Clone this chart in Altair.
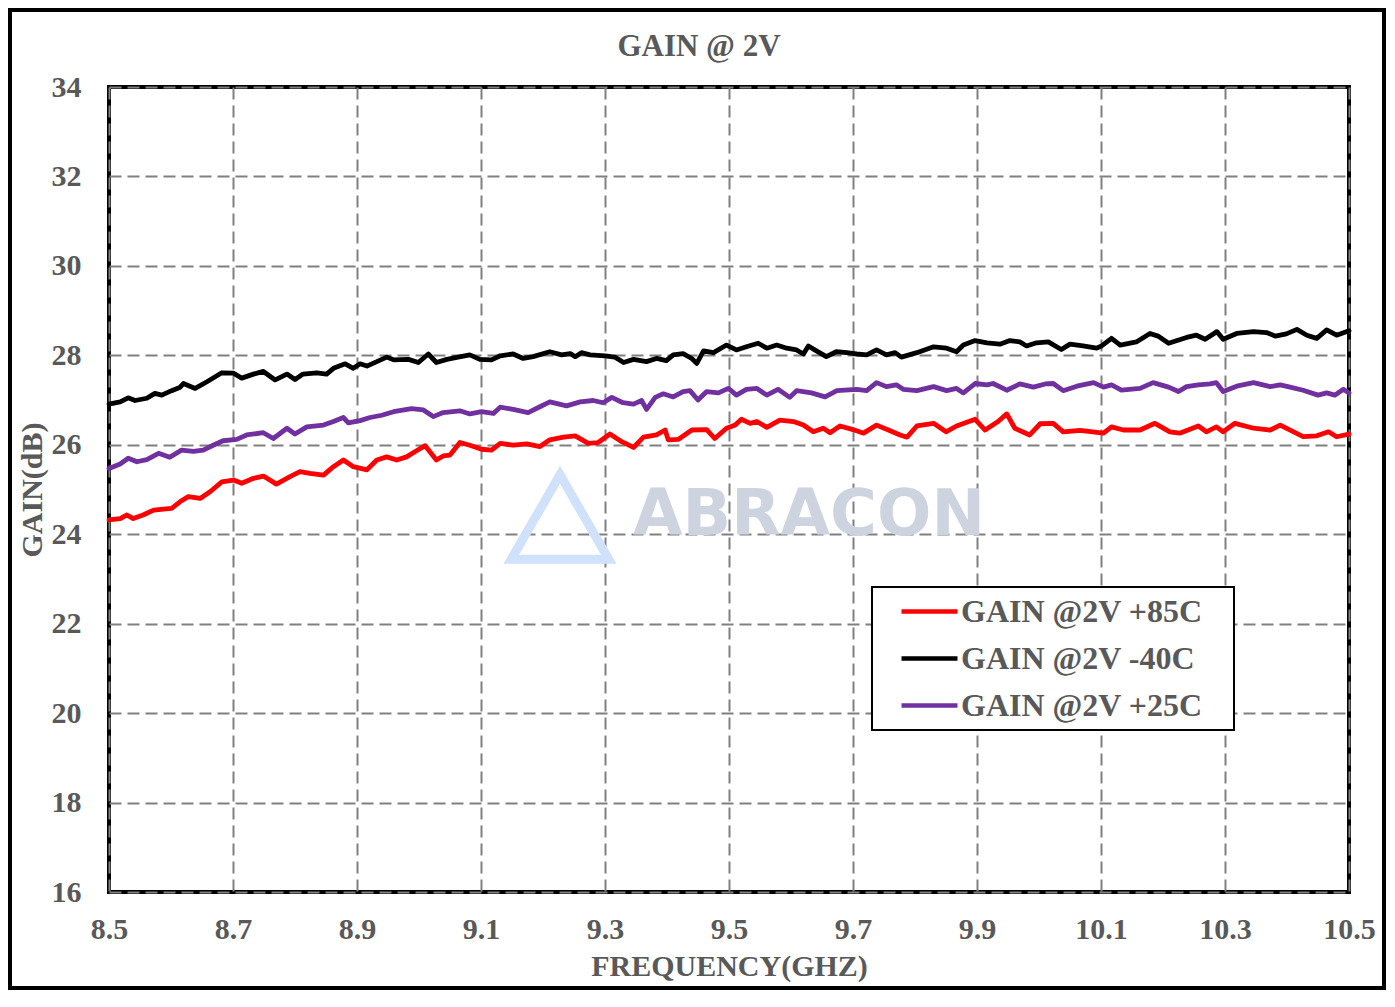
import altair as alt
import pandas as pd

# ---------------- data ----------------
series_names = ["GAIN @2V +85C", "GAIN @2V -40C", "GAIN @2V +25C"]
series_colors = ["#FF0000", "#000000", "#7030A0"]

freq_85 = [8.500, 8.518, 8.529, 8.539, 8.555, 8.572, 8.588, 8.601, 8.615, 8.628, 8.647, 8.663, 8.682, 8.701,
           8.714, 8.733, 8.749, 8.770, 8.792, 8.808, 8.824, 8.846, 8.862, 8.878, 8.894, 8.916, 8.932, 8.948,
           8.964, 8.980, 8.994, 9.010, 9.028, 9.039, 9.050, 9.066, 9.082, 9.101, 9.117,
           9.131, 9.152, 9.174, 9.195, 9.211, 9.233, 9.252, 9.273, 9.289, 9.308, 9.327, 9.346, 9.362, 9.383,
           9.397, 9.402, 9.418, 9.440, 9.464, 9.477, 9.496, 9.510, 9.520, 9.534, 9.545, 9.561, 9.582, 9.604,
           9.620, 9.636, 9.652, 9.663, 9.679, 9.700, 9.717, 9.738, 9.757, 9.776, 9.787, 9.803,
           9.830, 9.850, 9.867, 9.897, 9.913, 9.934, 9.948, 9.961, 9.985, 10.002, 10.023, 10.039, 10.066,
           10.104, 10.117, 10.136, 10.163, 10.187, 10.211, 10.227, 10.257, 10.270, 10.286, 10.297, 10.316,
           10.346, 10.373, 10.389, 10.426, 10.448, 10.467, 10.480, 10.500]
gain_85 = [24.32, 24.35, 24.43, 24.35, 24.43, 24.54, 24.56, 24.58, 24.73, 24.84, 24.80, 24.95, 25.17, 25.21,
           25.14, 25.25, 25.30, 25.12, 25.29, 25.40, 25.36, 25.32, 25.51, 25.66, 25.51, 25.44, 25.66, 25.73,
           25.66, 25.73, 25.85, 25.98, 25.66, 25.75, 25.77, 26.05, 25.99, 25.90, 25.88,
           26.03, 25.99, 26.02, 25.96, 26.11, 26.17, 26.20, 26.03, 26.05, 26.24, 26.07, 25.94, 26.17, 26.22,
           26.33, 26.11, 26.12, 26.33, 26.34, 26.14, 26.37, 26.44, 26.57, 26.48, 26.52, 26.39, 26.55, 26.52,
           26.44, 26.29, 26.37, 26.27, 26.42, 26.34, 26.26, 26.44, 26.33, 26.22, 26.17, 26.42,
           26.48, 26.29, 26.42, 26.57, 26.33, 26.52, 26.69, 26.37, 26.22, 26.47, 26.48, 26.29, 26.32,
           26.26, 26.40, 26.33, 26.33, 26.48, 26.29, 26.26, 26.42, 26.29, 26.40, 26.29, 26.48,
           26.37, 26.33, 26.44, 26.18, 26.20, 26.29, 26.18, 26.24]

freq_m40 = [8.500, 8.518, 8.531, 8.542, 8.561, 8.574, 8.585, 8.601, 8.614, 8.620, 8.639, 8.658, 8.682, 8.701,
            8.714, 8.733, 8.749, 8.768, 8.787, 8.800, 8.813, 8.835, 8.851, 8.862, 8.881, 8.894, 8.905, 8.916,
            8.932, 8.948, 8.959, 8.983, 8.999, 9.015, 9.028, 9.045, 9.063, 9.082, 9.098, 9.117,
            9.131, 9.152, 9.168, 9.184, 9.211, 9.230, 9.244, 9.252, 9.262, 9.276, 9.300, 9.316, 9.330, 9.346,
            9.367, 9.383, 9.399, 9.410, 9.426, 9.440, 9.448, 9.459, 9.475, 9.496, 9.512, 9.528, 9.547, 9.561,
            9.577, 9.593, 9.609, 9.620, 9.628, 9.641, 9.657, 9.673, 9.690, 9.706, 9.722, 9.738, 9.754, 9.768,
            9.778, 9.803,
            9.830, 9.851, 9.867, 9.878, 9.897, 9.916, 9.937, 9.953, 9.969, 9.980, 9.996, 10.015, 10.036,
            10.050, 10.071, 10.093, 10.101, 10.117, 10.131, 10.157, 10.179, 10.192, 10.209, 10.238, 10.254,
            10.268, 10.287, 10.297, 10.319, 10.346, 10.367, 10.381, 10.399, 10.416, 10.432, 10.448, 10.464,
            10.480, 10.500]
gain_m40 = [26.91, 26.96, 27.05, 26.99, 27.04, 27.15, 27.11, 27.21, 27.28, 27.37, 27.26, 27.41, 27.61, 27.60,
            27.49, 27.58, 27.64, 27.45, 27.58, 27.46, 27.58, 27.61, 27.58, 27.71, 27.81, 27.71, 27.81, 27.76,
            27.86, 27.96, 27.90, 27.91, 27.84, 28.03, 27.84, 27.91, 27.96, 28.01, 27.91, 27.90,
            27.99, 28.03, 27.93, 27.97, 28.08, 28.01, 28.04, 27.97, 28.06, 28.01, 27.99, 27.96, 27.84, 27.91,
            27.86, 27.93, 27.88, 28.01, 28.04, 27.93, 27.82, 28.10, 28.06, 28.23, 28.12, 28.19, 28.27, 28.16,
            28.23, 28.16, 28.12, 28.03, 28.21, 28.10, 27.97, 28.08, 28.06, 28.03, 28.01, 28.12, 28.01, 28.06,
            27.96, 28.06,
            28.19, 28.16, 28.08, 28.23, 28.33, 28.28, 28.25, 28.33, 28.30, 28.21, 28.28, 28.30, 28.13,
            28.25, 28.21, 28.16, 28.21, 28.38, 28.23, 28.30, 28.49, 28.43, 28.27, 28.40, 28.45,
            28.36, 28.53, 28.36, 28.49, 28.53, 28.51, 28.43, 28.48, 28.58, 28.45, 28.38, 28.57,
            28.45, 28.55]

freq_25 = [8.500, 8.518, 8.531, 8.545, 8.561, 8.580, 8.598, 8.617, 8.636, 8.652, 8.668, 8.684, 8.706, 8.722,
           8.749, 8.765, 8.787, 8.800, 8.819, 8.846, 8.862, 8.878, 8.886, 8.905, 8.921, 8.940, 8.959, 8.988,
           9.007, 9.023, 9.039, 9.066, 9.082, 9.101, 9.120,
           9.131, 9.152, 9.176, 9.195, 9.211, 9.238, 9.260, 9.281, 9.297, 9.311, 9.329, 9.346, 9.359, 9.367,
           9.381, 9.394, 9.410, 9.426, 9.437, 9.450, 9.464, 9.483, 9.499, 9.512, 9.528, 9.545, 9.561, 9.579,
           9.598, 9.609, 9.633, 9.655, 9.674, 9.706, 9.722, 9.738, 9.754, 9.770, 9.781, 9.803,
           9.830, 9.851, 9.867, 9.878, 9.897, 9.916, 9.926, 9.948, 9.969, 9.991, 10.010, 10.023, 10.039,
           10.061, 10.088, 10.104, 10.117, 10.133, 10.163, 10.184, 10.209, 10.225, 10.238, 10.257, 10.276,
           10.286, 10.297, 10.319, 10.346, 10.373, 10.389, 10.405, 10.426, 10.450, 10.464, 10.477, 10.491,
           10.500]
gain_25 = [25.47, 25.57, 25.70, 25.62, 25.67, 25.81, 25.72, 25.88, 25.85, 25.88, 25.99, 26.09, 26.12, 26.22,
           26.27, 26.14, 26.37, 26.24, 26.40, 26.44, 26.52, 26.61, 26.49, 26.54, 26.61, 26.66, 26.74, 26.81,
           26.78, 26.63, 26.72, 26.76, 26.69, 26.74, 26.70,
           26.84, 26.79, 26.72, 26.85, 26.96, 26.87, 26.96, 26.99, 26.94, 27.06, 26.94, 26.91, 26.99, 26.79,
           27.06, 27.14, 27.07, 27.19, 27.21, 27.00, 27.19, 27.16, 27.26, 27.11, 27.24, 27.26, 27.11, 27.24,
           27.06, 27.21, 27.16, 27.07, 27.21, 27.24, 27.21, 27.39, 27.30, 27.34, 27.24, 27.21,
           27.30, 27.21, 27.26, 27.16, 27.37, 27.34, 27.37, 27.22, 27.36, 27.29, 27.36, 27.37, 27.21,
           27.31, 27.39, 27.29, 27.34, 27.22, 27.26, 27.39, 27.29, 27.19, 27.30, 27.34, 27.36,
           27.39, 27.19, 27.31, 27.39, 27.30, 27.34, 27.29, 27.22, 27.11, 27.16, 27.11, 27.24,
           27.16]

x_ticks = [8.5, 8.7, 8.9, 9.1, 9.3, 9.5, 9.7, 9.9, 10.1, 10.3, 10.5]
y_ticks = [16, 18, 20, 22, 24, 26, 28, 30, 32, 34]

chart_title = "GAIN @ 2V"
x_title = "FREQUENCY(GHZ)"
y_title = "GAIN(dB)"
watermark = "ABRACON"

# ---------------- build table ----------------
rows = []
for name, fr, gn in [(series_names[0], freq_85, gain_85),
                     (series_names[1], freq_m40, gain_m40),
                     (series_names[2], freq_25, gain_25)]:
    for i, (f, g) in enumerate(zip(fr, gn)):
        rows.append({"series": name, "freq": f, "gain": g, "order": i})
df = pd.DataFrame(rows)

FONT = "Liberation Serif"
TXT = "#595959"
W, H = 1240, 805

lines = alt.Chart(df).mark_line(strokeWidth=4.8, strokeJoin="round", strokeCap="round").encode(
    x=alt.X("freq:Q",
            scale=alt.Scale(domain=[8.5, 10.5], nice=False, zero=False),
            axis=alt.Axis(values=x_ticks, format=".1f", title=x_title, labelPadding=22,
                          titlePadding=7, labelFlush=False)),
    y=alt.Y("gain:Q",
            scale=alt.Scale(domain=[16, 34], nice=False, zero=False),
            axis=alt.Axis(values=y_ticks, title=y_title, labelPadding=28, titlePadding=4)),
    color=alt.Color("series:N",
                    scale=alt.Scale(domain=series_names, range=series_colors),
                    legend=alt.Legend(title=None, orient="none", legendX=763, legendY=500,
                                      symbolType="M-2,0H2", symbolSize=784, symbolStrokeWidth=4.5,
                                      symbolOffset=33, labelOffset=15, rowPadding=14,
                                      padding=8, fillColor="white", strokeColor="black",
                                      labelFont=FONT, labelFontSize=32, labelFontWeight="bold",
                                      labelColor=TXT, labelLimit=600,
                                      labelExpr="datum.label + '\u2800'")),
    order="order:Q",
    detail="series:N",
)

wm_df = pd.DataFrame({"t": [watermark]})
wm_text = alt.Chart(wm_df).mark_text(font="DejaVu Sans", fontWeight="bold", fontSize=64,
                                     color="#cdd3df", align="center", baseline="alphabetic").encode(
    text="t:N", x=alt.value(700), y=alt.value(448))
wm_logo = alt.Chart(wm_df).mark_point(shape="triangle-up", filled=False, strokeWidth=9,
                                      color="#cfe1fb", size=9500, opacity=1).encode(
    x=alt.value(451), y=alt.value(430))

frame = alt.Chart(wm_df).mark_rect(filled=False, stroke="black", strokeWidth=4, clip=False).encode(
    x=alt.value(-99), x2=alt.value(1275), y=alt.value(-77), y2=alt.value(901))

chart = alt.layer(wm_text, wm_logo, lines, frame).properties(
    width=W, height=H,
    background="white",
    title=alt.Title(chart_title, font=FONT, fontSize=31, fontWeight="bold", color=TXT,
                    anchor="middle", dx=-30, dy=69, offset=14),
    autosize=alt.AutoSizeParams(type="none"),
    padding={"left": 101, "top": 79, "right": 38, "bottom": 103},
).configure_view(stroke="black", strokeWidth=4).configure_axis(
    labelFont=FONT, labelFontSize=30, labelFontWeight="bold", labelColor=TXT,
    titleFont=FONT, titleFontSize=30, titleFontWeight="bold", titleColor=TXT,
    grid=True, gridColor="#808080", gridDash=[12, 6], gridWidth=2, gridOpacity=1,
    ticks=False, domain=False,
).configure_legend(strokeWidth=2)

chart.save("out.html", embed_options={"renderer": "svg", "actions": False})
